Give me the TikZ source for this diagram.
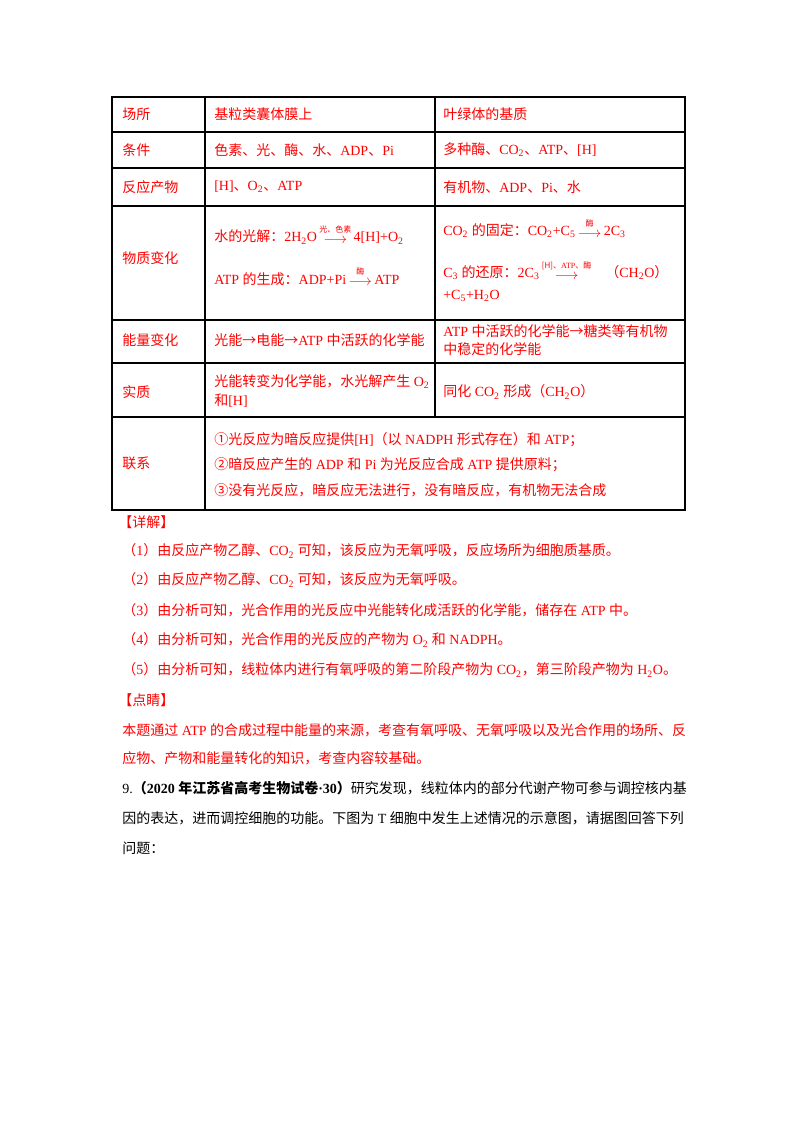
\documentclass[tikz,border=0pt]{standalone}
\usepackage{fontspec}
\usepackage{amsmath}
\setmainfont{Liberation Serif}
\newfontfamily\cjk{Noto Sans CJK SC}
\newfontfamily\latf{Liberation Serif}
\XeTeXinterchartokenstate=1
\newXeTeXintercharclass\CJKcls
\newcount\cc
\def\setcls#1#2{\cc=#1 \loop\XeTeXcharclass\cc=\CJKcls \ifnum\cc<#2 \advance\cc by 1 \repeat}
\setcls{"4E00}{"9FFF}
\setcls{"3000}{"303F}
\setcls{"FF00}{"FFEF}
\setcls{"2460}{"24FF}
\setcls{"2190}{"2193}
\XeTeXinterchartoks 0 \CJKcls = {\cjk}
\XeTeXinterchartoks 4095 \CJKcls = {\cjk}
\XeTeXinterchartoks \CJKcls 0 = {\latf}
\XeTeXinterchartoks \CJKcls 4095 = {\latf}
\definecolor{ansred}{RGB}{255,0,0}
\newcommand\rxn[1]{\raisebox{-1pt}{\(\overset{\raisebox{2pt}{\mbox{\cjk\fontsize{6}{7}\selectfont #1}}}{\longrightarrow}\)}}
\tikzset{
  cell/.style={anchor=west, inner sep=0pt, text=ansred, font=\fontsize{10.5}{14}\selectfont, align=left},
  body/.style={anchor=west, inner sep=0pt, font=\fontsize{10.5}{14}\selectfont},
  grid/.style={line width=0.9pt}
}
\begin{document}
\begin{tikzpicture}[x=0.75pt, y=-0.75pt]
\useasboundingbox (0,0) rectangle (800,1132);
% table frame
\draw[grid] (112,97) rectangle (685,510);
\foreach \yy in {132,168,206,320,363,417}
  \draw[grid] (112,\yy) -- (685,\yy);
\draw[grid] (205,97) -- (205,510);
\draw[grid] (435,97) -- (435,417);
% first column
\node[cell] (place) at (122,114) {场所};
\node[cell] (cond) at (122,150) {条件};
\node[cell] (prod) at (122,187) {反应产物};
\node[cell] (matter) at (122,258) {物质变化};
\node[cell] (energy) at (122,340) {能量变化};
\node[cell] (essence) at (122,392) {实质};
\node[cell] (link) at (122,463) {联系};
% light reaction
\node[cell] (lplace) at (214,114) {基粒类囊体膜上};
\node[cell] (lcond) at (214,150) {色素、光、酶、水、ADP、Pi};
\node[cell] (lprod) at (214,187) {[H]、O\textsubscript{2}、ATP};
\node[cell] (lwater) at (214,234) {水的光解：2H\textsubscript{2}O\,\rxn{光、色素}\,4[H]+O\textsubscript{2}};
\node[cell] (latp) at (214,276) {ATP 的生成：ADP+Pi\,\rxn{酶}\,ATP};
\node[cell] (lenergy) at (214,340) {光能→电能→ATP 中活跃的化学能};
\node[cell] (lessence) at (214,391) {光能转变为化学能，水光解产生 O\textsubscript{2}\\和[H]};
% dark reaction
\node[cell] (dplace) at (443,114) {叶绿体的基质};
\node[cell] (dcond) at (443,150) {多种酶、CO\textsubscript{2}、ATP、[H]};
\node[cell] (dprod) at (443,187) {有机物、ADP、Pi、水};
\node[cell] (dfix) at (443,228) {CO\textsubscript{2} 的固定：CO\textsubscript{2}+C\textsubscript{5}\,\rxn{酶}\,2C\textsubscript{3}};
\node[cell] (dred) at (443,270) {C\textsubscript{3} 的还原：2C\textsubscript{3}\,\rxn{[H]、ATP、酶}\quad（CH\textsubscript{2}O）};
\node[cell] (dred2) at (443,296) {+C\textsubscript{5}+H\textsubscript{2}O};
\node[cell] (denergy) at (443,340) {ATP 中活跃的化学能→糖类等有机物\\中稳定的化学能};
\node[cell] (dessence) at (443,392) {同化 CO\textsubscript{2} 形成（CH\textsubscript{2}O）};
% relation
\node[cell] (rel1) at (214,440) {①光反应为暗反应提供[H]（以 NADPH 形式存在）和 ATP；};
\node[cell] (rel2) at (214,465) {②暗反应产生的 ADP 和 Pi 为光反应合成 ATP 提供原料；};
\node[cell] (rel3) at (214,490) {③没有光反应，暗反应无法进行，没有暗反应，有机物无法合成};
% explanation
\node[cell] (detail) at (118,522) {【详解】};
\node[cell] (ans1) at (122,551) {（1）由反应产物乙醇、CO\textsubscript{2} 可知，该反应为无氧呼吸，反应场所为细胞质基质。};
\node[cell] (ans2) at (122,580) {（2）由反应产物乙醇、CO\textsubscript{2} 可知，该反应为无氧呼吸。};
\node[cell] (ans3) at (122,610) {（3）由分析可知，光合作用的光反应中光能转化成活跃的化学能，储存在 ATP 中。};
\node[cell] (ans4) at (122,640) {（4）由分析可知，光合作用的光反应的产物为 O\textsubscript{2} 和 NADPH。};
\node[cell] (ans5) at (122,670) {（5）由分析可知，线粒体内进行有氧呼吸的第二阶段产物为 CO\textsubscript{2}，第三阶段产物为 H\textsubscript{2}O。};
\node[cell] (hint) at (118,700) {【点睛】};
\node[cell] (sum1) at (122,730) {本题通过 ATP 的合成过程中能量的来源，考查有氧呼吸、无氧呼吸以及光合作用的场所、反};
\node[cell] (sum2) at (122,758) {应物、产物和能量转化的知识，考查内容较基础。};
% next question
\node[body] (q1) at (122,788) {9.\textbf{（2020 年江苏省高考生物试卷·30）}研究发现，线粒体内的部分代谢产物可参与调控核内基};
\node[body] (q2) at (122,818) {因的表达，进而调控细胞的功能。下图为 T 细胞中发生上述情况的示意图，请据图回答下列};
\node[body] (q3) at (122,848) {问题：};
\end{tikzpicture}
\end{document}
